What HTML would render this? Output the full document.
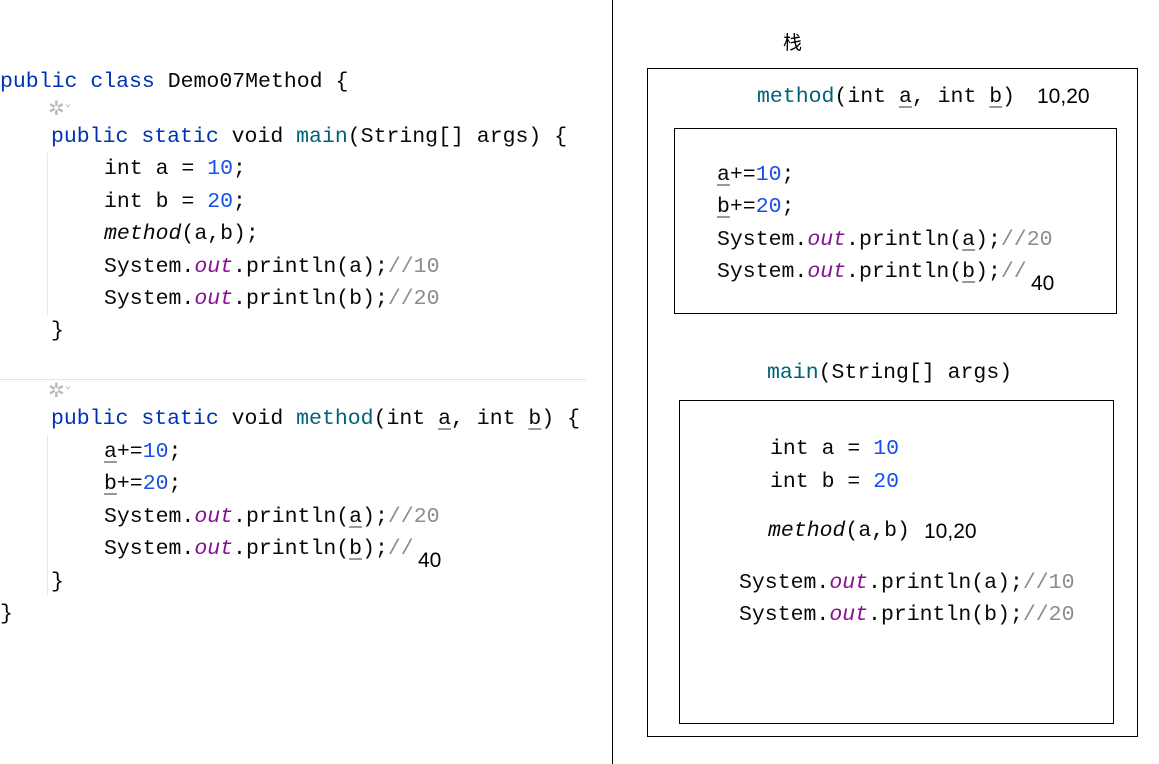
<!DOCTYPE html>
<html><head><meta charset="utf-8"><style>
body{margin:0;width:1159px;height:764px;background:#fff;position:relative;overflow:hidden}
.l{position:absolute;white-space:pre;font-family:"Liberation Mono",monospace;font-size:21.5px;line-height:24px;color:#080808}
.k{color:#0033b3}.m{color:#00627a}.n{color:#1750eb}.o{color:#871094;font-style:italic}.c{color:#8c8c8c}.i{font-style:italic}
.u{text-decoration:underline;text-decoration-color:#999;text-underline-offset:4px}
.t{position:absolute;font-family:"Liberation Sans",sans-serif;font-size:21px;line-height:24px;color:#000}
.box{position:absolute;border:1px solid #000}
.ic{position:absolute;color:#b8b8b8;font-size:20px;font-family:"DejaVu Sans",sans-serif}
</style></head><body>
<div style="position:absolute;left:612px;top:0;width:1px;height:764px;background:#000"></div>
<div style="position:absolute;left:0;top:379px;width:586px;height:1px;background:#e4e4e4"></div>
<div style="position:absolute;left:47px;top:153px;width:1px;height:162px;background:#e8e8e8"></div>
<div style="position:absolute;left:47px;top:435px;width:1px;height:160px;background:#e8e8e8"></div>
<div class="ic" style="left:48px;top:96px">✲<span style="font-size:13px">˅</span></div>
<div class="ic" style="left:48px;top:378px">✲<span style="font-size:13px">˅</span></div>

<div class="l" style="left:0;top:70px"><span class="k">public class</span> Demo07Method {</div>
<div class="l" style="left:51px;top:125px"><span class="k">public static</span> void <span class="m">main</span>(String[] args) {</div>
<div class="l" style="left:104px;top:157px">int a = <span class="n">10</span>;</div>
<div class="l" style="left:104px;top:190px">int b = <span class="n">20</span>;</div>
<div class="l" style="left:104px;top:222px"><span class="i">method</span>(a,b);</div>
<div class="l" style="left:104px;top:255px">System.<span class="o">out</span>.println(a);<span class="c">//10</span></div>
<div class="l" style="left:104px;top:287px">System.<span class="o">out</span>.println(b);<span class="c">//20</span></div>
<div class="l" style="left:51px;top:319px">}</div>
<div class="l" style="left:51px;top:407px"><span class="k">public static</span> void <span class="m">method</span>(int <span class="u">a</span>, int <span class="u">b</span>) {</div>
<div class="l" style="left:104px;top:440px"><span class="u">a</span>+=<span class="n">10</span>;</div>
<div class="l" style="left:104px;top:472px"><span class="u">b</span>+=<span class="n">20</span>;</div>
<div class="l" style="left:104px;top:505px">System.<span class="o">out</span>.println(<span class="u">a</span>);<span class="c">//20</span></div>
<div class="l" style="left:104px;top:537px">System.<span class="o">out</span>.println(<span class="u">b</span>);<span class="c">//</span></div>
<div class="t" style="left:418px;top:549px">40</div>
<div class="l" style="left:51px;top:570px">}</div>
<div class="l" style="left:0;top:602px">}</div>

<div class="t" style="left:783px;top:30px;font-family:'Noto Sans CJK SC',sans-serif;font-size:19px">栈</div>
<div class="box" style="left:647px;top:68px;width:489px;height:667px"></div>
<div class="box" style="left:674px;top:128px;width:441px;height:184px"></div>
<div class="box" style="left:679px;top:400px;width:433px;height:322px"></div>

<div class="l" style="left:757px;top:85px"><span class="m">method</span>(int <span class="u">a</span>, int <span class="u">b</span>)</div>
<div class="t" style="left:1037px;top:85px">10,20</div>
<div class="l" style="left:717px;top:163px"><span class="u">a</span>+=<span class="n">10</span>;</div>
<div class="l" style="left:717px;top:195px"><span class="u">b</span>+=<span class="n">20</span>;</div>
<div class="l" style="left:717px;top:228px">System.<span class="o">out</span>.println(<span class="u">a</span>);<span class="c">//20</span></div>
<div class="l" style="left:717px;top:260px">System.<span class="o">out</span>.println(<span class="u">b</span>);<span class="c">//</span></div>
<div class="t" style="left:1031px;top:272px">40</div>

<div class="l" style="left:767px;top:361px"><span class="m">main</span>(String[] args)</div>
<div class="l" style="left:770px;top:437px">int a = <span class="n">10</span></div>
<div class="l" style="left:770px;top:470px">int b = <span class="n">20</span></div>
<div class="l" style="left:768px;top:519px"><span class="i">method</span>(a,b)</div>
<div class="t" style="left:924px;top:520px">10,20</div>
<div class="l" style="left:739px;top:571px">System.<span class="o">out</span>.println(a);<span class="c">//10</span></div>
<div class="l" style="left:739px;top:603px">System.<span class="o">out</span>.println(b);<span class="c">//20</span></div>
</body></html>
